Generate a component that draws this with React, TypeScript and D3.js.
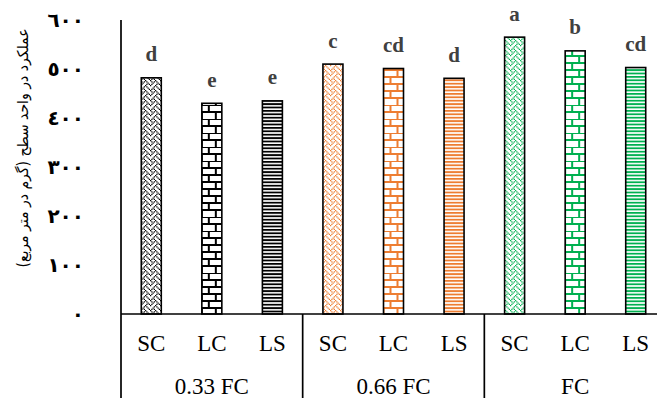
import React from "react";
import * as d3 from "d3";

// Treatments within each irrigation level, and the irrigation levels
const treatments = ["SC", "LC", "LS"];
const levels = ["0.33 FC", "0.66 FC", "FC"];
// Yield per unit area (g/m²), ordered level by level
const yieldValues = [482, 430, 435, 510, 501, 481, 565, 537, 503];
// Mean-separation letters
const groupLetters = ["d", "e", "e", "c", "cd", "d", "a", "b", "cd"];
const levelColors = ["#000000", "#ED7D31", "#00B050"];
const yTicks = [0, 100, 200, 300, 400, 500, 600];
const yTitle = "عملکرد در واحد سطح (گرم در متر مربع)";

const W = 657;
const H = 398;
const plotLeft = 121;
const plotRight = 666;
const baseY = 314;
const topY = 20;

const toArabicDigits = (n: number) =>
  String(n).replace(/\d/g, (c) => "٠١٢٣٤٥٦٧٨٩"[+c]);

// Weave bitmap (8x8), one row per byte
const weaveRows = [0x88, 0x54, 0x22, 0x45, 0x88, 0x14, 0x22, 0x51];

function Weave({ id, color }: { id: string; color: string }) {
  const s = 1.25;
  const cells: JSX.Element[] = [];
  weaveRows.forEach((row, r) => {
    for (let c = 0; c < 8; c++) {
      if (row & (0x80 >> c)) {
        cells.push(<rect key={`${r}-${c}`} x={c * s} y={r * s} width={s} height={s} fill={color} />);
      }
    }
  });
  return (
    <pattern id={id} patternUnits="userSpaceOnUse" width={8 * s} height={8 * s}>
      <rect width={8 * s} height={8 * s} fill="#fff" />
      {cells}
    </pattern>
  );
}

function Brick({ id, color, x0 }: { id: string; color: string; x0: number }) {
  const bw = 14;
  const bh = 7;
  const t = 2;
  return (
    <pattern id={id} patternUnits="userSpaceOnUse" x={x0} y={baseY} width={bw} height={bh * 2}>
      <rect width={bw} height={bh * 2} fill="#fff" />
      <rect x={0} y={0} width={bw} height={t} fill={color} />
      <rect x={0} y={bh} width={bw} height={t} fill={color} />
      <rect x={0} y={0} width={t} height={bh} fill={color} />
      <rect x={bw / 2} y={bh} width={t} height={bh} fill={color} />
    </pattern>
  );
}

function Stripes({ id, color }: { id: string; color: string }) {
  const p = 3.4;
  return (
    <pattern id={id} patternUnits="userSpaceOnUse" y={baseY} width={10} height={p}>
      <rect width={10} height={p} fill="#fff" />
      <rect y={0} width={10} height={1.8} fill={color} />
    </pattern>
  );
}

export default function App() {
  const n = yieldValues.length;
  const x = d3
    .scaleBand<number>()
    .domain(d3.range(n))
    .range([plotLeft, plotRight])
    .padding(0);
  const y = d3.scaleLinear().domain([0, 600]).range([baseY, topY]);
  const bw = 20;

  const patternId = (i: number) => `pat-${i}`;

  return (
    <svg
      width={W}
      height={H}
      style={{ position: "absolute", left: 0, top: 0, background: "#fff" }}
    >
      <defs>
        {yieldValues.map((_, i) => {
          const color = levelColors[Math.floor(i / 3)];
          const kind = i % 3;
          const bx = (x(i) as number) + x.bandwidth() / 2 - bw / 2;
          if (kind === 0) return <Weave key={i} id={patternId(i)} color={color} />;
          if (kind === 1) return <Brick key={i} id={patternId(i)} color={color} x0={bx + 6} />;
          return <Stripes key={i} id={patternId(i)} color={color} />;
        })}
      </defs>

      {/* Y axis title */}
      <text
        transform={`translate(23,148) rotate(-90)`}
        textAnchor="middle"
        dominantBaseline="central"
        direction="rtl"
        fontFamily="DejaVu Sans"
        fontSize={15}
        textLength={239}
        lengthAdjust="spacingAndGlyphs"
        fill="#000"
      >
        {yTitle}
      </text>

      {/* Y tick labels */}
      {yTicks.map((t) => (
        <text
          key={t}
          x={84}
          y={y(t)}
          textAnchor="end"
          dominantBaseline="central"
          fontFamily="DejaVu Sans"
          fontWeight="bold"
          fontSize={20}
          fill="#000"
        >
          {toArabicDigits(t)}
        </text>
      ))}

      {/* Bars */}
      {yieldValues.map((v, i) => {
        const cx = (x(i) as number) + x.bandwidth() / 2;
        return (
          <rect
            key={i}
            x={cx - bw / 2}
            y={y(v)}
            width={bw}
            height={baseY - y(v)}
            fill={`url(#${patternId(i)})`}
            stroke="#000"
            strokeWidth={1.6}
          />
        );
      })}

      {/* Significance letters */}
      {groupLetters.map((l, i) => (
        <text
          key={i}
          x={(x(i) as number) + x.bandwidth() / 2}
          y={y(yieldValues[i]) - 16.5}
          textAnchor="middle"
          fontFamily="Liberation Serif"
          fontWeight="bold"
          fontSize={21}
          fill="#404040"
        >
          {l}
        </text>
      ))}

      {/* Axes and group separators */}
      <line x1={plotLeft} x2={plotLeft} y1={topY} y2={H} stroke="#000" strokeWidth={1.7} />
      <line x1={plotLeft} x2={W} y1={baseY} y2={baseY} stroke="#000" strokeWidth={1.7} />
      {[3, 6].map((k) => (
        <line
          key={k}
          x1={x(k) as number}
          x2={x(k) as number}
          y1={baseY}
          y2={H}
          stroke="#000"
          strokeWidth={1.7}
        />
      ))}

      {/* Treatment labels */}
      {yieldValues.map((_, i) => (
        <text
          key={i}
          x={(x(i) as number) + x.bandwidth() / 2}
          y={350.5}
          textAnchor="middle"
          fontFamily="Liberation Serif"
          fontSize={23}
          fill="#000"
        >
          {treatments[i % 3]}
        </text>
      ))}

      {/* Irrigation level labels */}
      {levels.map((g, k) => (
        <text
          key={g}
          x={(x(k * 3 + 1) as number) + x.bandwidth() / 2}
          y={394}
          textAnchor="middle"
          fontFamily="Liberation Serif"
          fontSize={23}
          fill="#000"
        >
          {g}
        </text>
      ))}
    </svg>
  );
}
